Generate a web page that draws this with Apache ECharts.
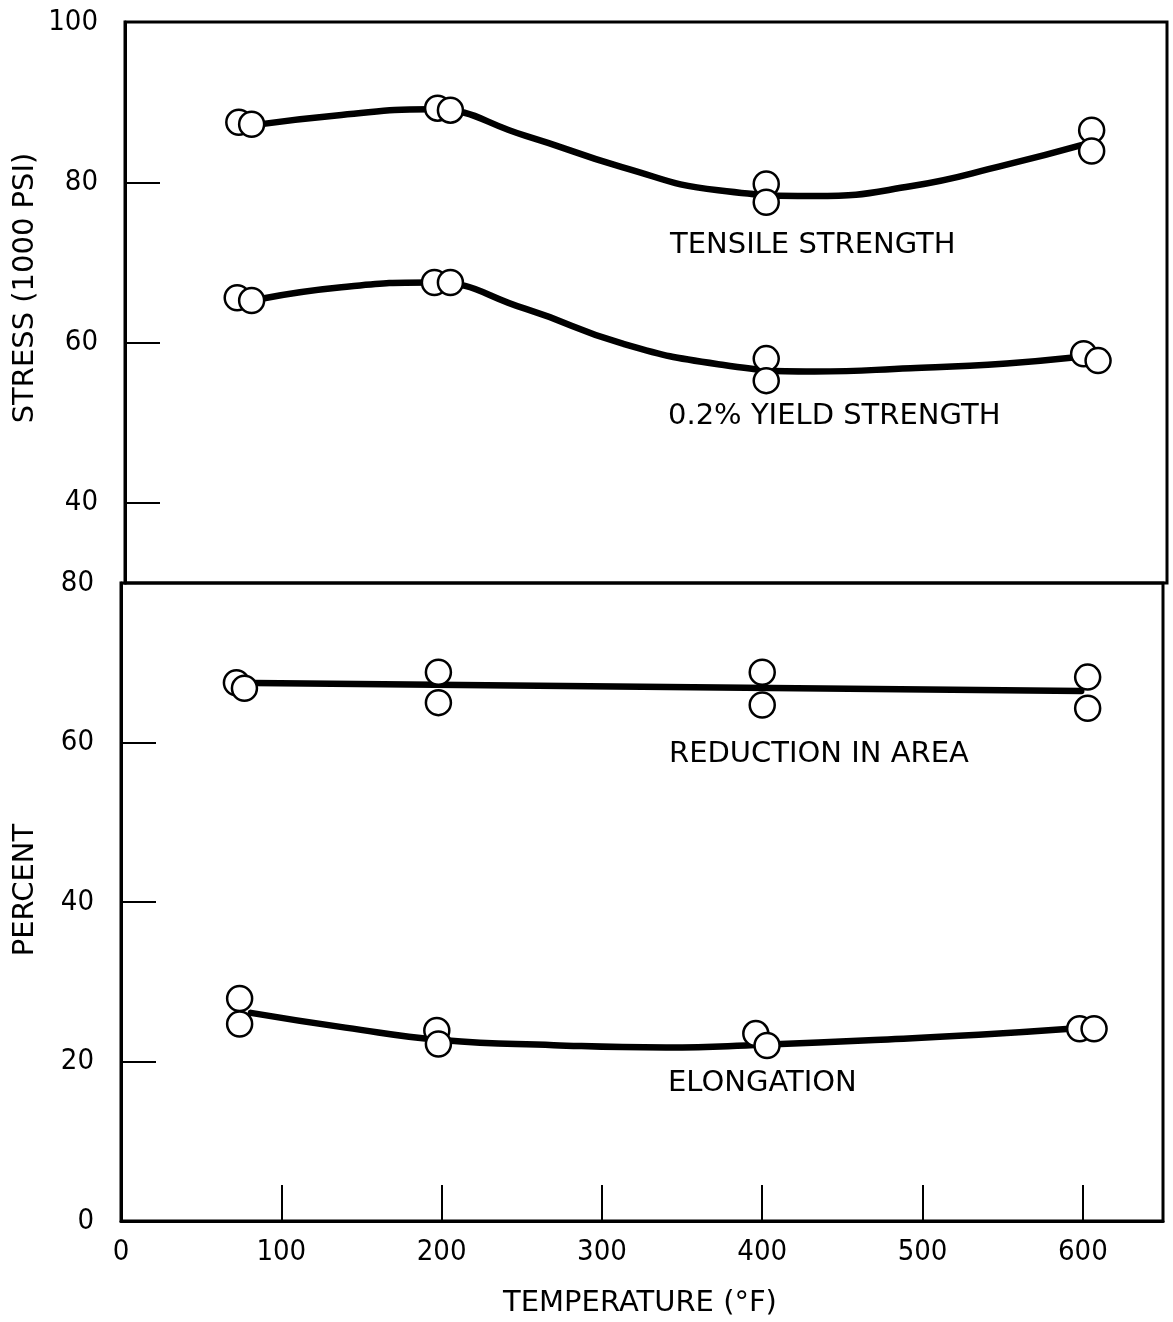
<!DOCTYPE html>
<html><head><meta charset="utf-8">
<script src="https://cdn.jsdelivr.net/npm/echarts@6/dist/echarts.min.js"></script>
<style>html,body{margin:0;padding:0;background:#fff}#c{width:1173px;height:1322px}</style>
</head><body><div id="c"></div>
<script>
// ---- data (temperature °F, value) ----
const tempTickValues = [100, 200, 300, 400, 500, 600];
const tempLabelValues = [0, 100, 200, 300, 400, 500, 600];
const stressTickValues = [40, 60, 80];
const stressLabelValues = [40, 60, 80, 100];
const percentTickValues = [20, 40, 60];
const percentLabelValues = [0, 20, 40, 60, 80];

// measured specimens (open circles)
const tensilePoints = [[71,87.5],[79,87.25],[195,89.25],[203,89.0],[400,79.8],[400,77.5],[603,86.5],[603,83.9]];
const yieldPoints = [[70,65.6],[79,65.25],[193,67.5],[203,67.5],[400,58.0],[400,55.25],[598,58.6],[607,57.75]];
const reductionPoints = [[72,67.5],[77,66.8],[198,68.8],[198,65.0],[400,68.8],[400,64.7],[603,68.2],[603,64.3]];
const elongationPoints = [[74,27.9],[74,24.7],[197,23.9],[198,22.2],[396,23.5],[403,22.0],[598,24.1],[607,24.1]];

// faired curves
const tensileCurve = [[79,87.1],[135,88.4],[190,89.1],[250,85.8],[310,81.9],[370,79.0],[430,78.3],[490,79.5],[550,82.2],[596,84.6]];
const yieldCurve = [[86,65.5],[135,66.9],[190,67.5],[250,64.2],[310,59.9],[370,57.3],[430,56.4],[490,56.8],[550,57.4],[590,58.1]];
const reductionCurve = [[83,67.45],[599,66.45]];
const elongationCurve = [[81,26.1],[140,24.25],[200,22.7],[270,22.05],[340,21.75],[400,22.1],[470,22.7],[535,23.35],[592,24.1]];

const FONT = '"DejaVu Sans"';
const NUMFONT = '"Liberation Sans Narrow", "DejaVu Sans Condensed", "Liberation Sans"';
const chart = echarts.init(document.getElementById('c'), null, {renderer: 'canvas'});

function curve(data, xi, smooth) {
  return {type: 'line', xAxisIndex: xi, yAxisIndex: xi, data: data, smooth: smooth,
    showSymbol: false, symbol: 'none', silent: true, z: 2,
    lineStyle: {color: '#000', width: 6.5, cap: 'round', join: 'round'}};
}
function pts(data, xi) {
  return {type: 'scatter', xAxisIndex: xi, yAxisIndex: xi, data: data, symbol: 'circle', symbolSize: 25, z: 3,
    itemStyle: {color: '#fff', borderColor: '#000', borderWidth: 2.5, opacity: 1}};
}
const labelStyle = {color: '#000', fontFamily: NUMFONT, fontSize: 29};
const TF = '29px ' + FONT;

chart.setOption({
  animation: false,
  backgroundColor: '#fff',
  grid: [
    {left: 125, top: 22, width: 1042, height: 561, show: true, borderColor: '#000', borderWidth: 3, backgroundColor: 'transparent'},
    {left: 121, top: 583, width: 1042, height: 638, show: true, borderColor: '#000', borderWidth: 3, backgroundColor: 'transparent'}
  ],
  xAxis: [
    {gridIndex: 0, type: 'value', min: 0, max: 650, show: false},
    {gridIndex: 1, type: 'value', min: 0, max: 650,
      axisLine: {show: true, lineStyle: {color: '#000', width: 3}},
      axisTick: {show: true, inside: true, length: 36, customValues: tempTickValues, lineStyle: {color: '#000', width: 2}},
      axisLabel: Object.assign({customValues: tempLabelValues, margin: 17}, labelStyle),
      splitLine: {show: false}}
  ],
  yAxis: [
    {gridIndex: 0, type: 'value', min: 30, max: 100,
      axisLine: {show: true, lineStyle: {color: '#000', width: 3}},
      axisTick: {show: true, inside: true, length: 35, customValues: stressTickValues, lineStyle: {color: '#000', width: 2}},
      axisLabel: Object.assign({customValues: stressLabelValues, margin: 27}, labelStyle),
      splitLine: {show: false}},
    {gridIndex: 1, type: 'value', min: 0, max: 80,
      axisLine: {show: true, lineStyle: {color: '#000', width: 3}},
      axisTick: {show: true, inside: true, length: 35, customValues: percentTickValues, lineStyle: {color: '#000', width: 2}},
      axisLabel: Object.assign({customValues: percentLabelValues, margin: 27}, labelStyle),
      splitLine: {show: false}}
  ],
  series: [
    curve(tensileCurve, 0, 0.5), pts(tensilePoints, 0),
    curve(yieldCurve, 0, 0.5), pts(yieldPoints, 0),
    curve(reductionCurve, 1, false), pts(reductionPoints, 1),
    curve(elongationCurve, 1, 0.5), pts(elongationPoints, 1)
  ],
  graphic: [
    {type: 'text', x: 670, y: 245, style: {text: 'TENSILE STRENGTH', font: TF, fill: '#000', align: 'left', verticalAlign: 'middle'}},
    {type: 'text', x: 668, y: 416, style: {text: '0.2% YIELD STRENGTH', font: TF, fill: '#000', align: 'left', verticalAlign: 'middle'}},
    {type: 'text', x: 669, y: 754, style: {text: 'REDUCTION IN AREA', font: TF, fill: '#000', align: 'left', verticalAlign: 'middle'}},
    {type: 'text', x: 668, y: 1083, style: {text: 'ELONGATION', font: TF, fill: '#000', align: 'left', verticalAlign: 'middle'}},
    {type: 'text', x: 25, y: 288, rotation: Math.PI / 2, style: {text: 'STRESS (1000 PSI)', font: TF, fill: '#000', align: 'center', verticalAlign: 'middle'}},
    {type: 'text', x: 25, y: 890, rotation: Math.PI / 2, style: {text: 'PERCENT', font: TF, fill: '#000', align: 'center', verticalAlign: 'middle'}},
    {type: 'text', x: 640, y: 1303, style: {text: 'TEMPERATURE (°F)', font: TF, fill: '#000', align: 'center', verticalAlign: 'middle'}}
  ]
});
</script>
</body></html>
